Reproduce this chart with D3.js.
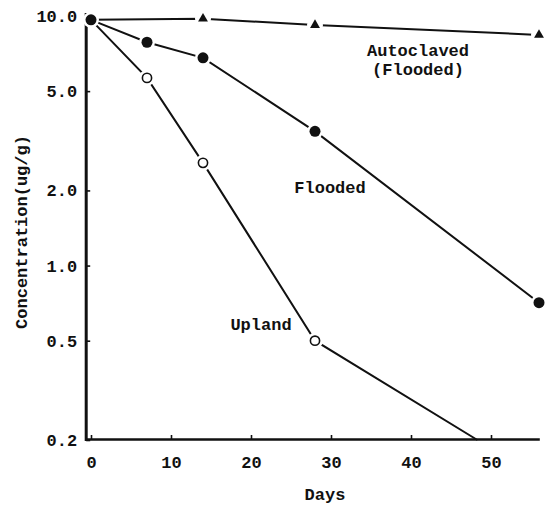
<!DOCTYPE html>
<html>
<head>
<meta charset="utf-8">
<script src="https://cdn.jsdelivr.net/npm/d3@7/dist/d3.min.js"></script>
<style>
  html, body { margin: 0; padding: 0; background: #fff; }
  svg { display: block; }
  text { font-family: "Liberation Mono", "Courier New", monospace; fill: #111; }
</style>
</head>
<body>
<svg id="chart" width="554" height="505"></svg>
<script>
// ---- data ----
const startDay = 0;
const startValue = 9.65;

const autoclavedDays = [0, 14, 28, 56];
const autoclavedValues = [9.65, 9.75, 9.2, 8.4];

const floodedDays = [0, 7, 14, 28, 56];
const floodedValues = [9.65, 7.85, 6.8, 3.45, 0.71];

const uplandDays = [0, 7, 14, 28, 48.3];
const uplandValues = [9.65, 5.65, 2.58, 0.5, 0.2];
const uplandMarkerCount = 4; // last point is where the line meets the axis (no marker)

const xTicks = [0, 10, 20, 30, 40, 50];
const yTicks = [0.2, 0.5, 1.0, 2.0, 5.0, 10.0];
const yTickLabels = ["0.2", "0.5", "1.0", "2.0", "5.0", "10.0"];

const xTitle = "Days";
const yTitle = "Concentration(ug/g)";

// ---- chart ----
const svg = d3.select("#chart");
const x = d3.scaleLinear().domain([0, 56]).range([91, 539]);
const y = d3.scaleLog().domain([0.2, 10]).range([440, 16]);

const ink = "#111";
const fontSize = 17;
const fw = "bold";

// axes
const xAxis = d3.axisBottom(x).tickValues(xTicks).tickSize(-5).tickPadding(16)
  .tickFormat(d3.format("d"));
const yAxis = d3.axisLeft(y).tickValues(yTicks).tickSize(-4).tickPadding(9)
  .tickFormat((d, i) => yTickLabels[i]);

const gx = svg.append("g").attr("transform", `translate(0,${y(0.2)})`).call(xAxis);
const gy = svg.append("g").attr("transform", `translate(${x(-0.6)},0)`).call(yAxis);
[gx, gy].forEach(g => {
  g.select(".domain").remove();
  g.selectAll(".tick line").attr("stroke", ink).attr("stroke-width", 1.6);
  g.selectAll(".tick text").attr("font-size", fontSize).attr("font-weight", fw)
    .attr("font-family", '"Liberation Mono", "Courier New", monospace').attr("fill", ink);
});

// axis lines
svg.append("line")
  .attr("x1", x(-0.6)).attr("x2", x(-0.6))
  .attr("y1", y(10) - 3).attr("y2", y(0.2) + 1)
  .attr("stroke", ink).attr("stroke-width", 3);
svg.append("line")
  .attr("x1", x(-0.6)).attr("x2", x(56.1))
  .attr("y1", y(0.2) - 0.5).attr("y2", y(0.2) - 0.5)
  .attr("stroke", ink).attr("stroke-width", 2.6);

// lines
const line = d3.line().x(d => x(d[0])).y(d => y(d[1]));
const zip = (a, b) => a.map((d, i) => [d, b[i]]);
const seriesLines = [
  zip(autoclavedDays, autoclavedValues),
  zip(floodedDays, floodedValues),
  zip(uplandDays, uplandValues)
];
svg.append("g").selectAll("path").data(seriesLines).join("path")
  .attr("d", line).attr("fill", "none").attr("stroke", ink).attr("stroke-width", 2);

// white halos to create gaps around markers
const autoPts = zip(autoclavedDays, autoclavedValues).slice(1);
const floodPts = zip(floodedDays, floodedValues).slice(1);
const uplandPts = zip(uplandDays, uplandValues).slice(1, uplandMarkerCount);
const allPts = autoPts.concat(floodPts, uplandPts, [[startDay, startValue]]);
svg.append("g").selectAll("circle").data(allPts).join("circle")
  .attr("cx", d => x(d[0])).attr("cy", d => y(d[1])).attr("r", 8).attr("fill", "#fff");

// markers
svg.append("g").selectAll("path").data(autoPts).join("path")
  .attr("transform", d => `translate(${x(d[0])},${y(d[1])})`)
  .attr("d", d3.symbol(d3.symbolTriangle, 42))
  .attr("fill", ink);
svg.append("g").selectAll("circle").data(floodPts.concat([[startDay, startValue]])).join("circle")
  .attr("cx", d => x(d[0])).attr("cy", d => y(d[1])).attr("r", 5.5).attr("fill", ink);
svg.append("g").selectAll("circle").data(uplandPts).join("circle")
  .attr("cx", d => x(d[0])).attr("cy", d => y(d[1])).attr("r", 4.6)
  .attr("fill", "#fff").attr("stroke", ink).attr("stroke-width", 1.6);

// series labels
const lab = (t, px, py) => svg.append("text").attr("x", px).attr("y", py)
  .attr("text-anchor", "middle").attr("font-size", fontSize).attr("font-weight", fw).text(t);
lab("Autoclaved", 418, 56);
lab("(Flooded)", 418, 75);
lab("Flooded", 330, 193);
lab("Upland", 261, 330);

// axis titles
svg.append("text").attr("x", 325).attr("y", 500).attr("text-anchor", "middle")
  .attr("font-size", fontSize).attr("font-weight", fw).text(xTitle);
svg.append("text").attr("transform", "translate(27,232) rotate(-90)")
  .attr("text-anchor", "middle").attr("font-size", fontSize).attr("font-weight", fw).text(yTitle);
</script>
</body>
</html>
